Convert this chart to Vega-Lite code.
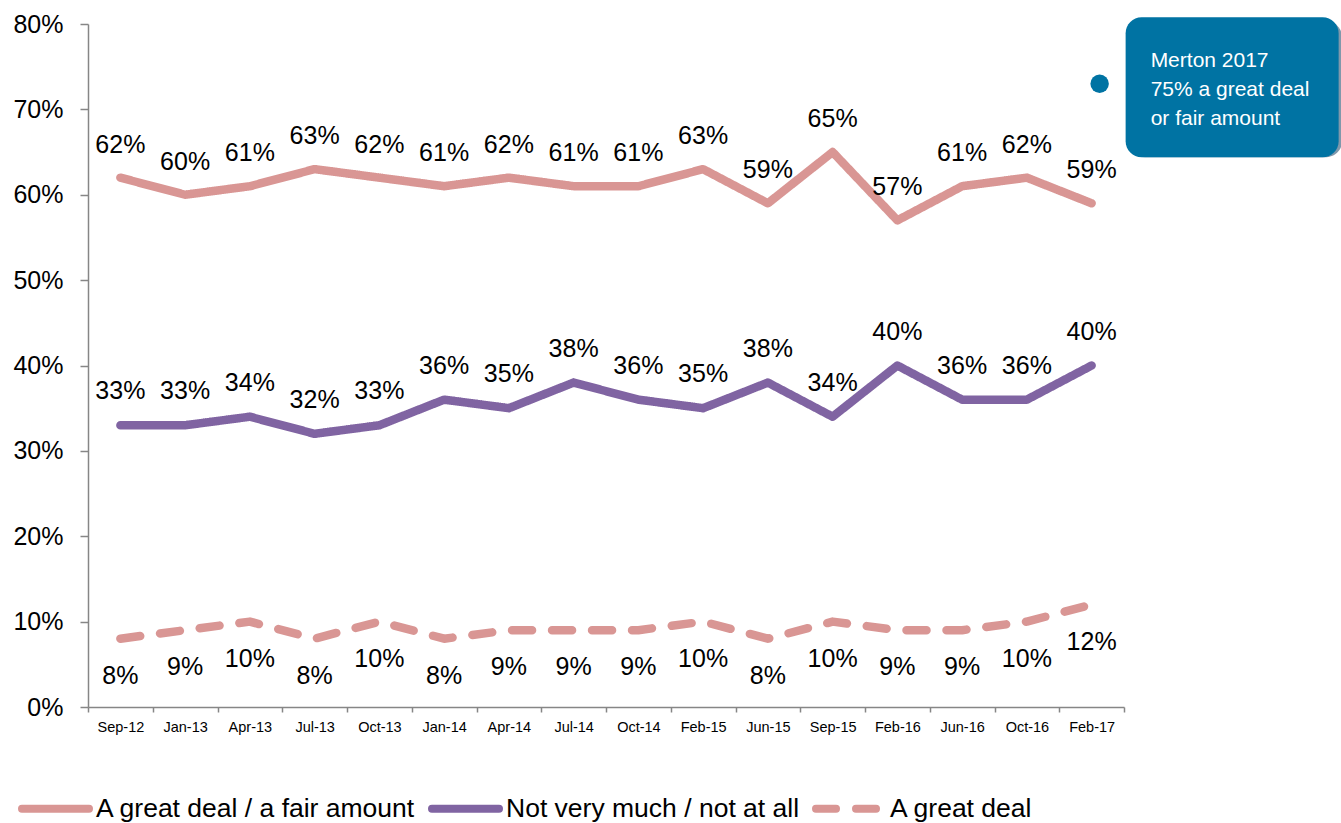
{
  "$schema": "https://vega.github.io/schema/vega-lite/v6.json",
  "width": 1036,
  "height": 683,
  "autosize": {"type": "none"},
  "padding": {"left": 88, "top": 24, "right": 217, "bottom": 116},
  "background": "white",
  "config": {"view": {"stroke": null}, "font": "Liberation Sans"},
  "datasets": {
    "main": [
      {"cat": "Sep-12", "series": "A great deal / a fair amount", "value": 0.62},
      {"cat": "Jan-13", "series": "A great deal / a fair amount", "value": 0.60},
      {"cat": "Apr-13", "series": "A great deal / a fair amount", "value": 0.61},
      {"cat": "Jul-13", "series": "A great deal / a fair amount", "value": 0.63},
      {"cat": "Oct-13", "series": "A great deal / a fair amount", "value": 0.62},
      {"cat": "Jan-14", "series": "A great deal / a fair amount", "value": 0.61},
      {"cat": "Apr-14", "series": "A great deal / a fair amount", "value": 0.62},
      {"cat": "Jul-14", "series": "A great deal / a fair amount", "value": 0.61},
      {"cat": "Oct-14", "series": "A great deal / a fair amount", "value": 0.61},
      {"cat": "Feb-15", "series": "A great deal / a fair amount", "value": 0.63},
      {"cat": "Jun-15", "series": "A great deal / a fair amount", "value": 0.59},
      {"cat": "Sep-15", "series": "A great deal / a fair amount", "value": 0.65},
      {"cat": "Feb-16", "series": "A great deal / a fair amount", "value": 0.57},
      {"cat": "Jun-16", "series": "A great deal / a fair amount", "value": 0.61},
      {"cat": "Oct-16", "series": "A great deal / a fair amount", "value": 0.62},
      {"cat": "Feb-17", "series": "A great deal / a fair amount", "value": 0.59},
      {"cat": "Sep-12", "series": "Not very much / not at all", "value": 0.33},
      {"cat": "Jan-13", "series": "Not very much / not at all", "value": 0.33},
      {"cat": "Apr-13", "series": "Not very much / not at all", "value": 0.34},
      {"cat": "Jul-13", "series": "Not very much / not at all", "value": 0.32},
      {"cat": "Oct-13", "series": "Not very much / not at all", "value": 0.33},
      {"cat": "Jan-14", "series": "Not very much / not at all", "value": 0.36},
      {"cat": "Apr-14", "series": "Not very much / not at all", "value": 0.35},
      {"cat": "Jul-14", "series": "Not very much / not at all", "value": 0.38},
      {"cat": "Oct-14", "series": "Not very much / not at all", "value": 0.36},
      {"cat": "Feb-15", "series": "Not very much / not at all", "value": 0.35},
      {"cat": "Jun-15", "series": "Not very much / not at all", "value": 0.38},
      {"cat": "Sep-15", "series": "Not very much / not at all", "value": 0.34},
      {"cat": "Feb-16", "series": "Not very much / not at all", "value": 0.40},
      {"cat": "Jun-16", "series": "Not very much / not at all", "value": 0.36},
      {"cat": "Oct-16", "series": "Not very much / not at all", "value": 0.36},
      {"cat": "Feb-17", "series": "Not very much / not at all", "value": 0.40},
      {"cat": "Sep-12", "series": "A great deal", "value": 0.08},
      {"cat": "Jan-13", "series": "A great deal", "value": 0.09},
      {"cat": "Apr-13", "series": "A great deal", "value": 0.10},
      {"cat": "Jul-13", "series": "A great deal", "value": 0.08},
      {"cat": "Oct-13", "series": "A great deal", "value": 0.10},
      {"cat": "Jan-14", "series": "A great deal", "value": 0.08},
      {"cat": "Apr-14", "series": "A great deal", "value": 0.09},
      {"cat": "Jul-14", "series": "A great deal", "value": 0.09},
      {"cat": "Oct-14", "series": "A great deal", "value": 0.09},
      {"cat": "Feb-15", "series": "A great deal", "value": 0.10},
      {"cat": "Jun-15", "series": "A great deal", "value": 0.08},
      {"cat": "Sep-15", "series": "A great deal", "value": 0.10},
      {"cat": "Feb-16", "series": "A great deal", "value": 0.09},
      {"cat": "Jun-16", "series": "A great deal", "value": 0.09},
      {"cat": "Oct-16", "series": "A great deal", "value": 0.10},
      {"cat": "Feb-17", "series": "A great deal", "value": 0.12}
    ],
    "callout": [
      {"cat": "Feb-17", "value": 0.73, "top": 0.808, "bottom": 0.644, "label": "Merton 2017\n75% a great deal\nor fair amount"}
    ]
  },
  "layer": [
    {
      "data": {"name": "main"},
      "mark": {"type": "line", "strokeWidth": 8.5, "strokeCap": "round", "strokeJoin": "round"},
      "encoding": {
        "x": {
          "field": "cat", "type": "ordinal",
          "scale": {"domain": ["Sep-12","Jan-13","Apr-13","Jul-13","Oct-13","Jan-14","Apr-14","Jul-14","Oct-14","Feb-15","Jun-15","Sep-15","Feb-16","Jun-16","Oct-16","Feb-17"], "paddingInner": 0, "paddingOuter": 0},
          "axis": {"title": null, "labelAngle": 0, "labelFontSize": 14.5, "labelColor": "black", "labelPadding": 8, "tickSize": 5, "tickBand": "extent", "domainColor": "#868686", "tickColor": "#868686", "domainWidth": 1.5, "tickWidth": 1.5}
        },
        "y": {
          "field": "value", "type": "quantitative",
          "scale": {"domain": [0, 0.8], "nice": false, "zero": true},
          "axis": {"title": null, "format": ".0%", "values": [0, 0.1, 0.2, 0.3, 0.4, 0.5, 0.6, 0.7, 0.8], "grid": false, "labelFontSize": 25, "labelColor": "black", "labelPadding": 17, "tickSize": 8, "domainColor": "#868686", "tickColor": "#868686", "domainWidth": 1.5, "tickWidth": 1.5}
        },
        "color": {
          "field": "series", "type": "nominal",
          "scale": {"domain": ["A great deal / a fair amount", "Not very much / not at all", "A great deal"], "range": ["#D99694", "#8064A2", "#D99694"]},
          "legend": {"title": null, "orient": "none", "legendX": -70, "legendY": 747, "direction": "horizontal", "symbolType": "stroke", "symbolSize": 4489, "symbolStrokeWidth": 8, "labelFontSize": 26.5, "labelColor": "black", "labelOffset": 3, "labelLimit": 600, "columnPadding": 0, "encoding": {"symbols": {"strokeCap": {"value": "round"}}}}
        },
        "strokeDash": {
          "field": "series", "type": "nominal",
          "scale": {"domain": ["A great deal / a fair amount", "Not very much / not at all", "A great deal"], "range": [[1, 0], [1, 0], [20, 20]]},
          "legend": {"title": null, "orient": "none", "legendX": -70, "legendY": 747, "direction": "horizontal", "symbolType": "stroke", "symbolSize": 4489, "symbolStrokeWidth": 8, "labelFontSize": 26.5, "labelColor": "black", "labelOffset": 3, "labelLimit": 600, "columnPadding": 0, "encoding": {"symbols": {"strokeCap": {"value": "round"}}}}
        },
        "detail": {"field": "series"}
      }
    },
    {
      "data": {"name": "main"},
      "transform": [{"filter": "datum.series === 'A great deal / a fair amount'"}],
      "mark": {"type": "text", "dy": -33, "fontSize": 25, "color": "black"},
      "encoding": {
        "x": {"field": "cat", "type": "ordinal"},
        "y": {"field": "value", "type": "quantitative"},
        "text": {"field": "value", "type": "quantitative", "format": ".0%"}
      }
    },
    {
      "data": {"name": "main"},
      "transform": [{"filter": "datum.series === 'Not very much / not at all'"}],
      "mark": {"type": "text", "dy": -34, "fontSize": 25, "color": "black"},
      "encoding": {
        "x": {"field": "cat", "type": "ordinal"},
        "y": {"field": "value", "type": "quantitative"},
        "text": {"field": "value", "type": "quantitative", "format": ".0%"}
      }
    },
    {
      "data": {"name": "main"},
      "transform": [{"filter": "datum.series === 'A great deal'"}],
      "mark": {"type": "text", "dy": 37, "fontSize": 25, "color": "black"},
      "encoding": {
        "x": {"field": "cat", "type": "ordinal"},
        "y": {"field": "value", "type": "quantitative"},
        "text": {"field": "value", "type": "quantitative", "format": ".0%"}
      }
    },
    {
      "data": {"name": "callout"},
      "mark": {"type": "point", "shape": "circle", "filled": true, "size": 340, "opacity": 1, "color": "#0073A3", "xOffset": 8},
      "encoding": {
        "x": {"field": "cat", "type": "ordinal"},
        "y": {"field": "value", "type": "quantitative"}
      }
    },
    {
      "data": {"name": "callout"},
      "mark": {"type": "bar", "width": 213, "cornerRadius": 16, "color": "#7F98AB", "xOffset": 144, "yOffset": 4},
      "encoding": {
        "x": {"field": "cat", "type": "ordinal"},
        "y": {"field": "top", "type": "quantitative"},
        "y2": {"field": "bottom"}
      }
    },
    {
      "data": {"name": "callout"},
      "mark": {"type": "bar", "width": 213, "cornerRadius": 16, "color": "#0073A3", "xOffset": 140.5},
      "encoding": {
        "x": {"field": "cat", "type": "ordinal"},
        "y": {"field": "top", "type": "quantitative"},
        "y2": {"field": "bottom"}
      }
    },
    {
      "data": {"name": "callout"},
      "mark": {"type": "text", "align": "left", "baseline": "middle", "dx": 59, "dy": -23, "fontSize": 21, "lineHeight": 29, "lineBreak": "\n", "color": "white"},
      "encoding": {
        "x": {"field": "cat", "type": "ordinal"},
        "y": {"field": "value", "type": "quantitative"},
        "text": {"field": "label"}
      }
    }
  ]
}
